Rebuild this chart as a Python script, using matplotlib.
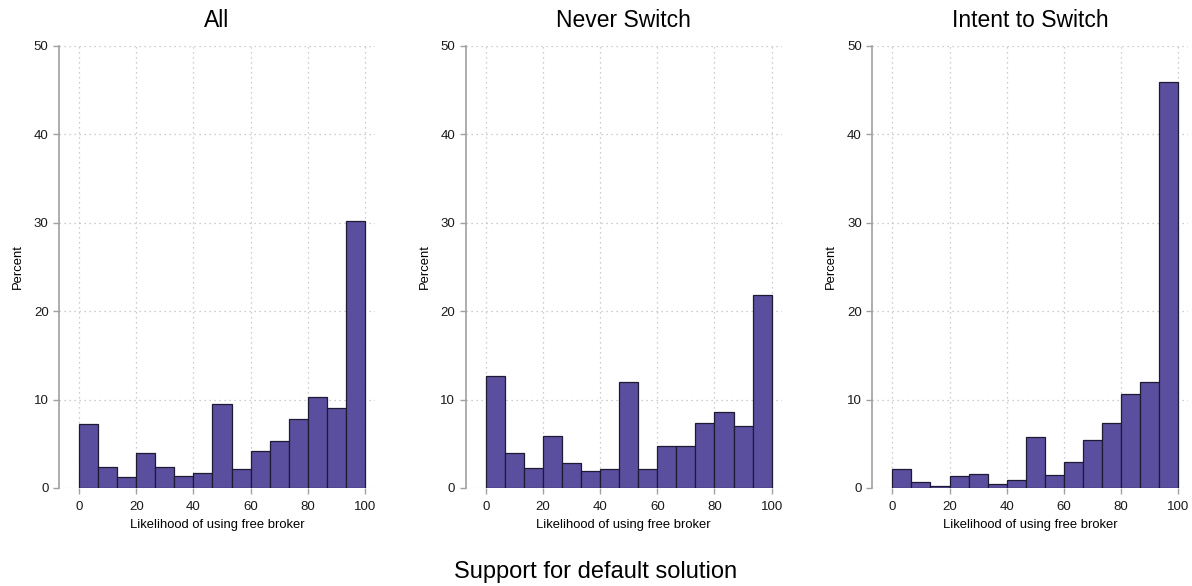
import matplotlib
matplotlib.use("Agg")
import matplotlib.pyplot as plt
import numpy as np

plt.rcParams['font.family'] = ['Liberation Sans', 'DejaVu Sans']

# histogram: 15 equal bins on 0..100, heights in percent
bin_edges = np.linspace(0, 100, 16)
titles = ['All', 'Never Switch', 'Intent to Switch']
pct_all = [7.2, 2.4, 1.3, 4.0, 2.4, 1.4, 1.7, 9.5, 2.1, 4.2, 5.3, 7.8, 10.3, 9.1, 30.2]
pct_never = [12.7, 4.0, 2.3, 5.9, 2.8, 1.9, 2.1, 12.0, 2.1, 4.8, 4.7, 7.3, 8.6, 7.0, 21.8]
pct_intent = [2.1, 0.7, 0.25, 1.4, 1.6, 0.4, 0.9, 5.8, 1.5, 2.9, 5.4, 7.4, 10.6, 12.0, 45.9]
x_ticks = [0, 20, 40, 60, 80, 100]
y_ticks = [0, 10, 20, 30, 40, 50]

bar_color = '#5a4e9e'
edge_color = '#1e1a33'
axis_grey = '#a0a0a0'

fig = plt.figure(figsize=(11.92, 5.86), dpi=100, facecolor='w')

lefts = [59 / 1192, 465.7 / 1192, 872.3 / 1192]
for left, title, vals in zip(lefts, titles, [pct_all, pct_never, pct_intent]):
    ax = fig.add_axes([left, 98 / 586, 316 / 1192, 442 / 586])
    ax.hist(bin_edges[:-1], bins=bin_edges, weights=vals,
            color=bar_color, edgecolor=edge_color, linewidth=0.9, zorder=3)
    ax.set_xlim(-7, 103.5)
    ax.set_ylim(0, 50)
    ax.set_xticks(x_ticks)
    ax.set_yticks(y_ticks)
    ax.grid(True, linestyle=(0, (1, 3)), color='#bdbdbd', linewidth=0.9, zorder=0)
    for s in ['top', 'right', 'bottom']:
        ax.spines[s].set_visible(False)
    ax.spines['left'].set_color(axis_grey)
    ax.spines['left'].set_linewidth(1.2)
    ax.tick_params(axis='both', colors=axis_grey, labelcolor='#1a1a1a',
                   labelsize=9.5, length=4, width=1.0)
    ax.tick_params(axis='x', pad=5)
    ax.set_xlabel('Likelihood of using free broker', fontsize=9.4, labelpad=5)
    ax.set_ylabel('Percent', fontsize=9.4, labelpad=7)
    ax.set_title(title, fontsize=16.5, pad=14)

fig.text(0.5, 0.013, 'Support for default solution', ha='center', va='baseline', fontsize=17)

fig.savefig('out.png', dpi=100, facecolor='w')
